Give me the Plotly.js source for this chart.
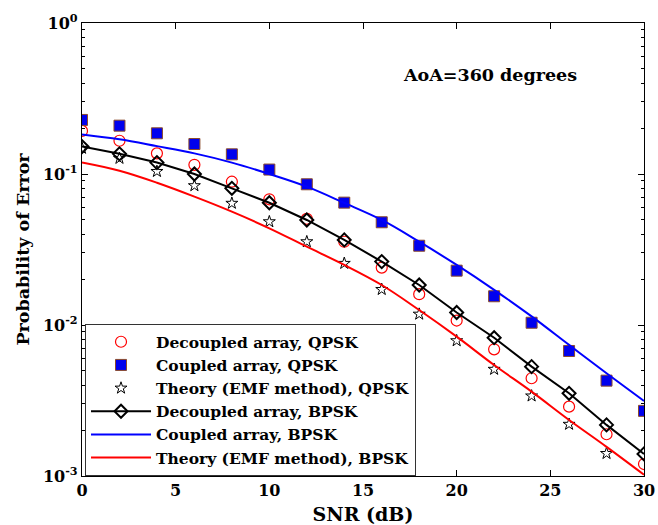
<!DOCTYPE html>
<html>
<head>
<meta charset="utf-8">
<script src="https://cdn.plot.ly/plotly-3.0.1.min.js"></script>
<style>html,body{margin:0;padding:0;background:#fff;}#chart{width:658px;height:525px;}</style>
</head>
<body>
<div id="chart"></div>
<script>
// SNR values (dB)
const snr = [0, 2, 4, 6, 8, 10, 12, 14, 16, 18, 20, 22, 24, 26, 28, 30];
const snrStar = [0, 2, 4, 6, 8, 10, 12, 14, 16, 18, 20, 22, 24, 26, 28];

// Series values (probability of error)
const decoupledQPSK = [0.193, 0.166, 0.137, 0.115, 0.0889, 0.068, 0.0505, 0.0356, 0.024, 0.016, 0.0107, 0.0069, 0.00444, 0.00288, 0.00189, 0.0012];
const coupledQPSK   = [0.228, 0.209, 0.186, 0.158, 0.135, 0.107, 0.0855, 0.0646, 0.0479, 0.0335, 0.0229, 0.0155, 0.01035, 0.00673, 0.00428, 0.0027];
const theoryQPSK    = [0.148, 0.127, 0.104, 0.0837, 0.064, 0.0483, 0.0356, 0.0256, 0.0172, 0.0118, 0.00787, 0.00509, 0.00339, 0.0022, 0.00141];
const decoupledBPSK = [0.152, 0.136, 0.119, 0.100, 0.0804, 0.0645, 0.0496, 0.0366, 0.0263, 0.0184, 0.0121, 0.00824, 0.0053, 0.00353, 0.00218, 0.0014];
const coupledBPSK   = [0.183, 0.170, 0.153, 0.137, 0.119, 0.100, 0.0824, 0.0643, 0.0496, 0.0356, 0.0250, 0.0171, 0.0114, 0.00738, 0.00479, 0.00314];
const theoryBPSK    = [0.119, 0.105, 0.0875, 0.0708, 0.0563, 0.0437, 0.033, 0.025, 0.0184, 0.01256, 0.00837, 0.00543, 0.00362, 0.00235, 0.00156, 0.00102];

// Labels
const seriesNames = [
  "Decoupled array, QPSK",
  "Coupled array, QPSK",
  "Theory (EMF method), QPSK",
  "Decoupled array, BPSK",
  "Coupled array, BPSK",
  "Theory (EMF method), BPSK"
];
const yTickVals = [0.001, 0.01, 0.1, 1];
const yTickText = ["10<sup>-3</sup>", "10<sup>-2</sup>", "10<sup>-1</sup>", "10<sup>0</sup>"];
const xTickVals = [0, 5, 10, 15, 20, 25, 30];

const minorVals = [];
[0.001, 0.01, 0.1].forEach(d => { for (let k = 2; k <= 9; k++) minorVals.push(+(d * k).toPrecision(3)); });

const serif = "DejaVu Serif, Liberation Serif, serif";

const traces = [
  {x: snr, y: decoupledQPSK, name: seriesNames[0], mode: "markers",
   marker: {symbol: "circle-open", size: 11, color: "#ff0000", line: {width: 1.2}}},
  {x: snr, y: coupledQPSK, name: seriesNames[1], mode: "markers",
   marker: {symbol: "square", size: 11, color: "#0000ee", line: {color: "#8b4a2b", width: 1}}},
  {x: snrStar, y: theoryQPSK, name: seriesNames[2], mode: "markers",
   marker: {symbol: "star-open", size: 9, color: "#000000", line: {width: 1}}},
  {x: snr, y: decoupledBPSK, name: seriesNames[3], mode: "lines+markers",
   line: {color: "#000000", width: 2},
   marker: {symbol: "diamond-open", size: 10, color: "#000000", line: {width: 2}}},
  {x: snr, y: coupledBPSK, name: seriesNames[4], mode: "lines",
   line: {color: "#0000ff", width: 2, shape: "spline"}},
  {x: snr, y: theoryBPSK, name: seriesNames[5], mode: "lines",
   line: {color: "#ff0000", width: 2, shape: "spline"}}
];

const layout = {
  width: 658, height: 525,
  margin: {l: 82, r: 14, t: 23, b: 49},
  paper_bgcolor: "#fff", plot_bgcolor: "#fff",
  font: {family: serif, color: "#000"},
  showlegend: true,
  legend: {
    x: 0.005, y: 0, xanchor: "left", yanchor: "bottom",
    bgcolor: "#fff", bordercolor: "#333", borderwidth: 1.2,
    font: {family: serif, size: 15.5, weight: "bold", color: "#000"},
    itemwidth: 60, tracegroupgap: 0
  },
  xaxis: {
    range: [0, 30], tickmode: "array", tickvals: xTickVals,
    ticks: "inside", ticklen: 6, tickcolor: "#000",
    showline: true, linecolor: "#000", linewidth: 1.2, mirror: "ticks",
    showgrid: false, zeroline: false,
    tickfont: {family: serif, size: 16, weight: "bold"},
    title: {text: "SNR (dB)", font: {family: serif, size: 19, weight: "bold"}, standoff: 9}
  },
  yaxis: {
    type: "log", range: [-3, 0], tickmode: "array", tickvals: yTickVals, ticktext: yTickText,
    ticks: "inside", ticklen: 6, tickcolor: "#000",
    showline: true, linecolor: "#000", linewidth: 1.2, mirror: "ticks",
    showgrid: false, zeroline: false,
    minor: {tickmode: "array", tickvals: minorVals, ticks: "inside", ticklen: 3, tickcolor: "#000", showgrid: false},
    tickfont: {family: serif, size: 16, weight: "bold"},
    title: {text: "Probability of Error", font: {family: serif, size: 17.5, weight: "bold"}, standoff: 8}
  },
  annotations: [{
    text: "AoA=360 degrees", xref: "paper", yref: "paper",
    x: 0.568, y: 0.885, xanchor: "left", yanchor: "middle", showarrow: false,
    font: {family: serif, size: 17.5, weight: "bold", color: "#000"}
  }]
};

Plotly.newPlot("chart", traces, layout, {displayModeBar: false, staticPlot: true});
</script>
</body>
</html>
